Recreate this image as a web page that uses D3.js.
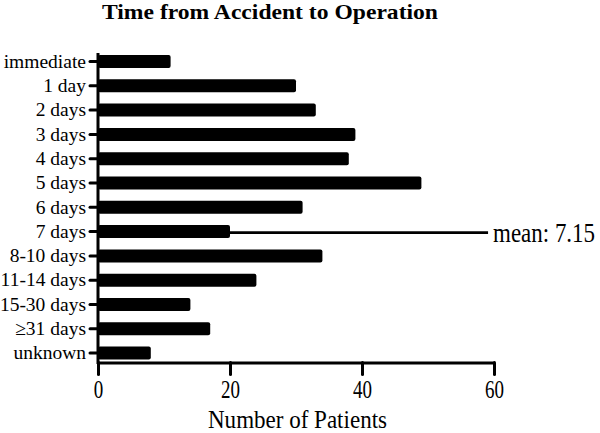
<!DOCTYPE html>
<html>
<head>
<meta charset="utf-8">
<script src="https://cdn.jsdelivr.net/npm/d3@7"></script>
<style>
  html, body { margin: 0; padding: 0; background: #fff; }
  svg { display: block; }
</style>
</head>
<body>
<svg id="chart" width="600" height="433"></svg>
<script>
const categories = ["immediate", "1 day", "2 days", "3 days", "4 days", "5 days", "6 days",
  "7 days", "8-10 days", "11-14 days", "15-30 days", "≥31 days", "unknown"];
const patients = [11, 30, 33, 39, 38, 49, 31, 20, 34, 24, 14, 17, 8];
const xTicks = [0, 20, 40, 60];
const meanLabel = "mean: 7.15";
const meanCategory = "7 days";
const meanLineEnd = 59.1;
const titleText = "Time from Accident to Operation";
const xTitle = "Number of  Patients";

const FONT = "'Liberation Serif', 'Times New Roman', Times, serif";
const svg = d3.select("#chart");
const W = 600, H = 433;
svg.append("rect").attr("width", W).attr("height", H).attr("fill", "#fff");

const x = d3.scaleLinear().domain([0, 60]).range([98, 494]);
const y = d3.scaleBand().domain(categories)
  .range([49.35, 365.25]).paddingInner(0.465).paddingOuter(0.2325);
const axisY = 362.5;

// Title
svg.append("text")
  .attr("x", 102).attr("y", 19)
  .attr("font-family", FONT)
  .attr("font-size", 22).attr("font-weight", "bold")
  .attr("textLength", 336).attr("lengthAdjust", "spacingAndGlyphs")
  .text(titleText);

// Mean line (behind bars)
const yc = y(meanCategory) + y.bandwidth() / 2 + 1;
svg.append("line")
  .attr("x1", x(0)).attr("x2", x(meanLineEnd))
  .attr("y1", yc).attr("y2", yc)
  .attr("stroke", "#000").attr("stroke-width", 2.6);
svg.append("g")
  .attr("transform", `translate(${x(meanLineEnd) + 5},${yc})`)
  .append("text")
  .attr("dy", "0.35em")
  .attr("font-family", FONT)
  .attr("font-size", 23)
  .attr("transform", "scale(1,1.15)")
  .attr("textLength", 102).attr("lengthAdjust", "spacingAndGlyphs")
  .text(meanLabel);

// Bars
svg.append("g").selectAll("rect")
  .data(categories.map((c, i) => ({ c, v: patients[i] })))
  .join("rect")
  .attr("x", x(0))
  .attr("y", d => y(d.c))
  .attr("width", d => x(d.v) - x(0))
  .attr("height", y.bandwidth())
  .attr("rx", 2).attr("ry", 2)
  .attr("fill", "#000");

// Y axis
const gy = svg.append("g").attr("transform", `translate(${x(0)},0)`)
  .call(d3.axisLeft(y).tickSize(8).tickSizeOuter(0).tickPadding(4));
gy.attr("font-family", FONT);
gy.select(".domain").remove();
gy.selectAll(".tick line").attr("stroke", "#000").attr("stroke-width", 3).attr("stroke-linecap", "round");
gy.selectAll(".tick text").attr("font-size", 19.5).attr("font-family", FONT).attr("fill", "#000");
svg.append("line")
  .attr("x1", x(0)).attr("x2", x(0))
  .attr("y1", 53).attr("y2", axisY + 1.5)
  .attr("stroke", "#000").attr("stroke-width", 3);

// X axis
const gx = svg.append("g").attr("transform", `translate(0,${axisY})`)
  .call(d3.axisBottom(x).tickValues(xTicks).tickSize(12).tickSizeOuter(0).tickFormat(d3.format("d")));
gx.attr("font-family", FONT);
gx.select(".domain").attr("stroke-width", 3).attr("stroke", "#000");
gx.selectAll(".tick line").attr("stroke", "#000").attr("stroke-width", 3).attr("stroke-linecap", "round");
gx.selectAll(".tick text")
  .attr("font-size", 25).attr("font-family", FONT).attr("fill", "#000")
  .attr("y", 35.5).attr("dy", null)
  .attr("transform", "scale(0.76,1)");

// X axis title
svg.append("text")
  .attr("x", (x(0) + x(60)) / 2 + 1.5).attr("y", 428)
  .attr("text-anchor", "middle")
  .attr("font-family", FONT)
  .attr("font-size", 25)
  .attr("textLength", 179).attr("lengthAdjust", "spacingAndGlyphs")
  .text(xTitle);
</script>
</body>
</html>
